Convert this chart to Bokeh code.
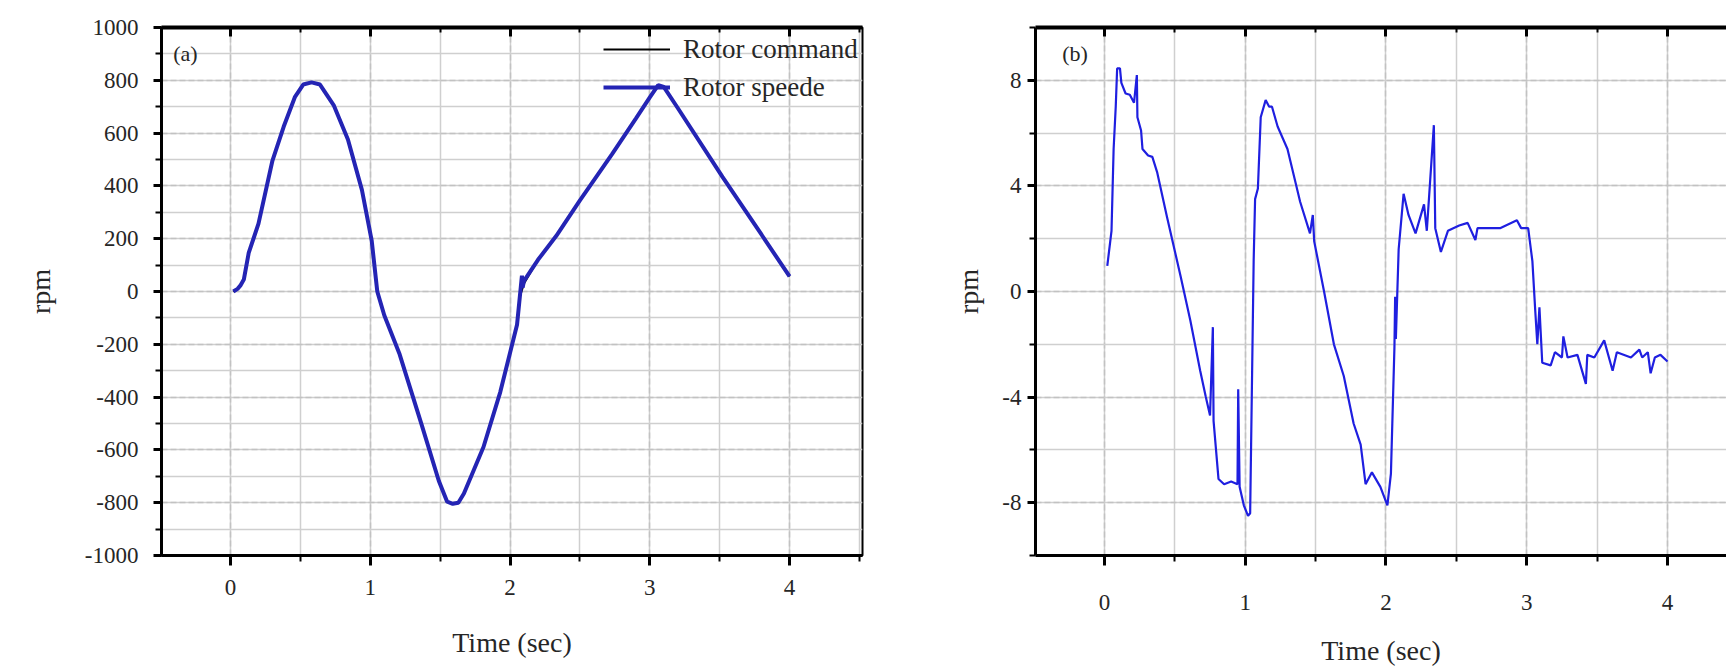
from bokeh.plotting import figure
from bokeh.layouts import row
from bokeh.models import (SingleIntervalTicker, LinearAxis, Legend, LegendItem,
                          Label, Range1d, PrintfTickFormatter)
from bokeh.embed import file_html
from bokeh.resources import INLINE

# ---------------- data ----------------
# panel (a): rotor command / rotor speed [rpm] vs time [s]
t_cmd = [0.02, 0.05, 0.07, 0.095, 0.13, 0.2, 0.3, 0.38, 0.46, 0.52, 0.58, 0.64,
         0.74, 0.84, 0.94, 1.01, 1.05, 1.1, 1.21, 1.37, 1.49, 1.55, 1.59, 1.63,
         1.67, 1.81, 1.93, 2.05, 2.07, 2.1, 2.2, 2.33, 2.5, 2.73, 2.9, 3.0,
         3.06, 3.1, 3.2, 3.52, 3.8, 4.0]
cmd_rpm = [0, 10, 22, 45, 146, 257, 496, 624, 736, 784, 792, 784,
           704, 576, 385, 193, 0, -90, -238, -509, -717, -796, -804, -800,
           -765, -589, -381, -126, -20, 30, 120, 210, 345, 520, 655, 735,
           782, 775, 695, 434, 215, 57]

t_spd = [0.02, 0.05, 0.07, 0.095, 0.13, 0.2, 0.3, 0.38, 0.46, 0.52, 0.58, 0.64,
         0.74, 0.84, 0.94, 1.01, 1.05, 1.1, 1.21, 1.37, 1.49, 1.55, 1.59, 1.63,
         1.67, 1.81, 1.93, 2.05, 2.07, 2.085, 2.09, 2.1, 2.2, 2.33, 2.5, 2.73,
         2.9, 3.0, 3.06, 3.1, 3.2, 3.52, 3.8, 4.0]
spd_rpm = [0, 10, 22, 45, 146, 257, 496, 624, 736, 784, 792, 784,
           704, 576, 385, 193, 0, -90, -238, -509, -717, -796, -804, -800,
           -765, -589, -381, -126, -20, 60, 15, 40, 120, 210, 345, 520,
           655, 735, 782, 775, 695, 434, 215, 57]

# panel (b): speed error [rpm] vs time [s]
t_err = [0.02, 0.05, 0.065, 0.08, 0.09, 0.11, 0.12, 0.15, 0.18, 0.21, 0.23, 0.234,
         0.26, 0.27, 0.31, 0.34, 0.375, 0.445, 0.54, 0.61, 0.68, 0.72, 0.75,
         0.77, 0.775, 0.81, 0.85, 0.9, 0.945, 0.95, 0.96, 0.99, 1.02, 1.035,
         1.06, 1.07, 1.09, 1.11, 1.145, 1.17, 1.19, 1.23, 1.3, 1.39, 1.46, 1.48,
         1.49, 1.56, 1.63, 1.70, 1.77, 1.82, 1.855, 1.9, 1.96, 2.01, 2.035,
         2.06, 2.065, 2.07, 2.09, 2.125, 2.16, 2.21, 2.27, 2.29, 2.34, 2.35,
         2.39, 2.44, 2.52, 2.58, 2.635, 2.65, 2.81, 2.93, 2.96, 3.01, 3.04,
         3.06, 3.075, 3.09, 3.11, 3.17, 3.2, 3.25, 3.26, 3.29, 3.36, 3.42,
         3.43, 3.48, 3.55, 3.61, 3.64, 3.74, 3.80, 3.82, 3.86, 3.88, 3.91,
         3.95, 4.0]
err_rpm = [0.97, 2.3, 5.4, 7.0, 8.45, 8.45, 7.9, 7.5, 7.45, 7.15, 8.2, 6.6,
           6.1, 5.4, 5.15, 5.1, 4.5, 2.8, 0.6, -1.1, -3.0, -4.0, -4.7,
           -1.35, -4.9, -7.1, -7.3, -7.2, -7.3, -3.7, -7.4, -8.1, -8.5, -8.4,
           1.2, 3.5, 3.9, 6.6, 7.25, 7.0, 7.0, 6.25, 5.4, 3.4, 2.2, 2.9,
           1.9, 0.0, -2.0, -3.2, -5.0, -5.8, -7.3, -6.85, -7.4, -8.1, -6.9,
           -2.1, -0.2, -1.8, 1.6, 3.7, 2.9, 2.2, 3.3, 2.3, 6.3, 2.4,
           1.5, 2.3, 2.5, 2.6, 1.95, 2.4, 2.4, 2.7, 2.4, 2.4, 1.15,
           -0.7, -2.0, -0.6, -2.7, -2.8, -2.3, -2.5, -1.7, -2.5, -2.4, -3.5,
           -2.4, -2.5, -1.85, -3.0, -2.3, -2.5, -2.2, -2.5, -2.3, -3.1, -2.5,
           -2.4, -2.65]

x_tick_step = 1
y_tick_step_a = 200
y_tick_step_b = 4
y_span_a = (-1000, 1000)
y_span_b = (-10, 10)
legend_labels = ["Rotor command", "Rotor speede"]

FONT = "Liberation Serif"
TXT = "#262626"


def style(p, xstep, ystep, ylab_standoff, xlab_standoff, ylabel_standoff, xlabel_standoff):
    xt = SingleIntervalTicker(interval=xstep, num_minor_ticks=2)
    yt = SingleIntervalTicker(interval=ystep, num_minor_ticks=2)
    p.xaxis.ticker = xt
    p.yaxis.ticker = yt
    p.yaxis.formatter = PrintfTickFormatter(format="%d")
    p.xgrid.ticker = xt
    p.ygrid.ticker = yt
    for g in (p.xgrid, p.ygrid):
        g.grid_line_color = "#c2c2c2"
        g.grid_line_width = 1.5
        g.grid_line_dash = "6 3"
        g.minor_grid_line_color = "#cfcfcf"
        g.minor_grid_line_width = 1.5
    for ax in (p.xaxis, p.yaxis):
        ax.axis_line_color = "black"
        ax.axis_line_width = 3
        ax.major_tick_line_color = "black"
        ax.major_tick_line_width = 3
        ax.minor_tick_line_color = "black"
        ax.minor_tick_line_width = 2
        ax.major_tick_in = 0
        ax.minor_tick_in = 0
        ax.major_label_text_font = FONT
        ax.major_label_text_font_size = "23px"
        ax.major_label_text_color = TXT
        ax.axis_label_text_font = FONT
        ax.axis_label_text_font_size = "28px"
        ax.axis_label_text_font_style = "normal"
        ax.axis_label_text_color = TXT
    p.yaxis.major_tick_out = 8
    p.yaxis.minor_tick_out = 6
    p.xaxis.major_tick_out = 10
    p.xaxis.minor_tick_out = 6
    p.yaxis.major_label_standoff = ylab_standoff
    p.xaxis.major_label_standoff = xlab_standoff
    p.yaxis.axis_label_standoff = ylabel_standoff
    p.xaxis.axis_label_standoff = xlabel_standoff
    p.xaxis.axis_label = "Time (sec)"
    p.yaxis.axis_label = "rpm"
    top = LinearAxis(ticker=SingleIntervalTicker(interval=xstep, num_minor_ticks=2),
                     axis_line_width=4, axis_line_color="black",
                     major_tick_in=9, major_tick_out=0, major_tick_line_width=3,
                     minor_tick_in=5, minor_tick_out=0, minor_tick_line_width=2,
                     major_label_text_color=None, major_label_standoff=0)
    p.add_layout(top, "above")


# ---------------- panel (a) ----------------
p1 = figure(width=900, height=668, x_range=Range1d(-0.494, 4.522),
            y_range=Range1d(*y_span_a), output_backend="svg", title=None,
            toolbar_location=None, min_border_left=161, min_border_right=38,
            min_border_top=13, min_border_bottom=112)
p1.outline_line_color = "black"
p1.outline_line_width = 2
style(p1, x_tick_step, y_tick_step_a, 15, 14, 26, 29)

r_cmd = p1.line(t_cmd, cmd_rpm, line_color="black", line_width=2)
r_spd = p1.line(t_spd, spd_rpm, line_color="#2424b4", line_width=4)

leg = Legend(items=[LegendItem(label=legend_labels[0], renderers=[r_cmd]),
                    LegendItem(label=legend_labels[1], renderers=[r_spd])],
             location=(442, 449), orientation="vertical",
             label_text_font=FONT, label_text_font_size="27px", label_text_color=TXT,
             glyph_width=67, glyph_height=38, label_height=38, spacing=0,
             padding=0, margin=0, label_standoff=13,
             border_line_color=None, background_fill_alpha=0)
p1.add_layout(leg)
p1.add_layout(Label(x=-0.41, y=902, text="(a)", text_font=FONT, text_font_size="22px",
                    text_color=TXT, text_align="left", text_baseline="middle"))

# ---------------- panel (b) ----------------
p2 = figure(width=826, height=668, x_range=Range1d(-0.49, 4.419),
            y_range=Range1d(*y_span_b), output_backend="svg", title=None,
            toolbar_location=None, min_border_left=135, min_border_right=0,
            min_border_top=27, min_border_bottom=107)
p2.outline_line_color = None
style(p2, x_tick_step, y_tick_step_b, 6, 29, 15, 22)
p2.line(t_err, err_rpm, line_color="#1f1fe0", line_width=2.2)
p2.add_layout(Label(x=-0.3, y=9.0, text="(b)", text_font=FONT, text_font_size="22px",
                    text_color=TXT, text_align="left", text_baseline="middle"))

layout = row(p1, p2)
open("out.html", "w").write(file_html(layout, INLINE))
